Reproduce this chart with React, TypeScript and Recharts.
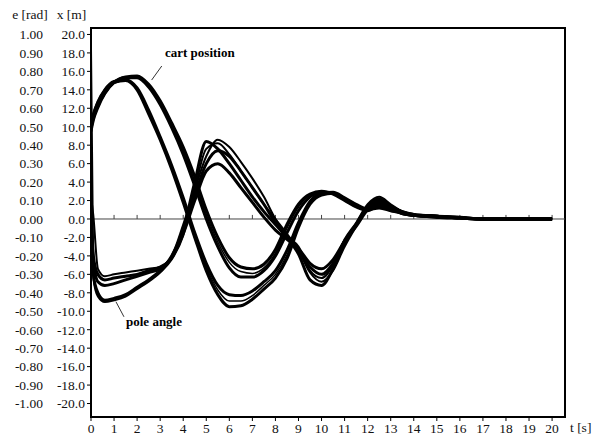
import {
  LineChart,
  Line,
  XAxis,
  YAxis,
  ReferenceLine,
  ReferenceArea,
  ReferenceDot,
} from "recharts";

// time grid [s]
const time = [
  0, 0.1, 0.3, 0.6, 1, 1.5, 2, 2.5, 3, 3.5, 4, 4.5, 5, 5.5, 6, 6.5, 7, 7.5, 8,
  8.5, 9, 9.5, 10, 10.5, 11, 11.5, 12, 12.5, 13, 13.5, 14, 15, 16, 17, 18, 19, 20,
];

// cart position runs [m]
const cartA1 = [
  10.0, 11.2, 12.6, 13.9, 14.8, 15.0, 14.0, 11.4, 8.6, 5.4, 1.8, -2.0, -5.6,
  -8.2, -9.5, -9.4, -8.7, -7.6, -6.4, -4.3, -0.9, 1.6, 2.6, 2.8, 2.2, 1.5, 1.0,
  1.2, 0.9, 0.6, 0.4, 0.3, 0.1, 0, 0, 0, 0,
];
const cartA2 = [
  10.2, 11.3, 12.7, 14.0, 14.9, 15.1, 14.2, 11.8, 8.9, 5.8, 2.3, -1.5, -4.8,
  -7.2, -8.2, -8.3, -7.8, -6.8, -5.6, -3.4, -0.4, 1.9, 2.8, 2.9, 2.3, 1.6, 1.1,
  1.4, 1.0, 0.7, 0.4, 0.3, 0.1, 0, 0, 0, 0,
];
const cartB1 = [
  9.5, 10.7, 12.1, 13.6, 14.8, 15.4, 15.5, 14.6, 12.8, 10.4, 7.8, 4.6, 1.0,
  -2.0, -4.2, -5.2, -5.4, -4.9, -3.3, -0.6, 1.6, 2.7, 3.0, 2.7, 2.0, 1.3, 0.9,
  1.5, 1.2, 0.7, 0.5, 0.3, 0.15, 0, 0, 0, 0,
];
const cartB2 = [
  9.8, 10.9, 12.3, 13.7, 14.8, 15.3, 15.3, 14.3, 12.4, 9.9, 7.0, 3.6, 0.0,
  -3.0, -5.3, -6.3, -6.3, -5.6, -4.0, -1.5, 0.9, 2.4, 2.9, 2.8, 2.1, 1.4, 1.0,
  1.6, 1.3, 0.8, 0.5, 0.3, 0.15, 0, 0, 0, 0,
];
const cartC1 = [
  10.1, 11.1, 12.5, 13.8, 14.7, 15.0, 14.1, 11.6, 8.8, 5.6, 2.0, -1.8, -5.2,
  -7.7, -8.9, -8.9, -8.3, -7.2, -6.0, -3.9, -0.7, 1.7, 2.7, 2.7, 2.1, 1.5, 1.1,
  1.3, 0.9, 0.6, 0.4, 0.3, 0.1, 0, 0, 0, 0,
];
const cartC2 = [
  9.6, 10.8, 12.2, 13.6, 14.8, 15.3, 15.4, 14.5, 12.6, 10.2, 7.4, 4.1, 0.5,
  -2.5, -4.7, -5.7, -5.9, -5.3, -3.7, -1.0, 1.3, 2.6, 3.0, 2.8, 2.1, 1.4, 1.0,
  1.6, 1.2, 0.7, 0.5, 0.3, 0.15, 0, 0, 0, 0,
];

// pole angle runs [rad]
const poleP1 = [
  0.0, -0.3, -0.4, -0.44, -0.43, -0.41, -0.37, -0.33, -0.28, -0.2, -0.06, 0.2,
  0.42, 0.38, 0.3, 0.21, 0.12, 0.04, -0.03, -0.1, -0.19, -0.33, -0.36, -0.27,
  -0.13, -0.03, 0.07, 0.11, 0.07, 0.03, 0.02, 0.015, 0.01, 0, 0, 0, 0,
];
const poleP2 = [
  0.12, 0.02, -0.27, -0.31, -0.3, -0.29, -0.28, -0.27, -0.26, -0.2, -0.03, 0.16,
  0.34, 0.43, 0.39, 0.31, 0.22, 0.12, 0.0, -0.09, -0.15, -0.28, -0.32, -0.25,
  -0.11, -0.02, 0.08, 0.12, 0.08, 0.04, 0.02, 0.015, 0.005, 0, 0, 0, 0,
];
const poleP3 = [
  0.0, -0.22, -0.34, -0.36, -0.35, -0.33, -0.31, -0.29, -0.27, -0.21, -0.08,
  0.1, 0.26, 0.3, 0.25, 0.17, 0.09, 0.01, -0.06, -0.11, -0.16, -0.24, -0.27,
  -0.22, -0.12, -0.04, 0.05, 0.09, 0.06, 0.03, 0.02, 0.01, 0.005, 0, 0, 0, 0,
];
const poleP4 = [
  0.92, -0.32, -0.42, -0.45, -0.44, -0.42, -0.38, -0.34, -0.29, -0.22, -0.09,
  0.16, 0.38, 0.41, 0.35, 0.26, 0.17, 0.08, 0.0, -0.08, -0.17, -0.29, -0.34,
  -0.28, -0.15, -0.04, 0.06, 0.1, 0.07, 0.04, 0.02, 0.01, 0.005, 0, 0, 0, 0,
];
const poleP5 = [
  0.05, -0.2, -0.3, -0.33, -0.32, -0.31, -0.3, -0.28, -0.26, -0.21, -0.06, 0.13,
  0.3, 0.37, 0.34, 0.26, 0.17, 0.08, -0.02, -0.1, -0.17, -0.26, -0.3, -0.24,
  -0.12, -0.03, 0.06, 0.1, 0.07, 0.04, 0.02, 0.01, 0.005, 0, 0, 0, 0,
];

const timeTicks = [0, 1, 2, 3, 4, 5, 6, 7, 8, 9, 10, 11, 12, 13, 14, 15, 16, 17, 18, 19, 20];
const eTicks = [1.0, 0.9, 0.8, 0.7, 0.6, 0.5, 0.4, 0.3, 0.2, 0.1, 0, -0.1, -0.2, -0.3, -0.4, -0.5, -0.6, -0.7, -0.8, -0.9, -1.0];
const xTicks = [20, 18, 16, 14, 12, 10, 8, 6, 4, 2, 0, -2, -4, -6, -8, -10, -12, -14, -16, -18, -20];

const cartRuns = { cartA1, cartA2, cartB1, cartB2, cartC1, cartC2 };
const poleRuns = { poleP1, poleP2, poleP3, poleP4, poleP5 };

const data = time.map((t, i) => {
  const row: Record<string, number> = { t };
  Object.entries(cartRuns).forEach(([k, v]) => (row[k] = v[i]));
  Object.entries(poleRuns).forEach(([k, v]) => (row[k] = v[i]));
  return row;
});

const T_MAX = 20.56;
const E_DOMAIN: [number, number] = [-1.073, 1.035];
const X_DOMAIN: [number, number] = [-21.46, 20.7];

const FONT = '"Liberation Serif", "Times New Roman", serif';
const FS = 13.5;
const labelStyle = { fontSize: FS, fill: "#111", fontFamily: FONT };

// ticks drawn as plain svg text so the serif font sticks
const YTick = ({ x, y, payload, digits }: any) => (
  <text x={x} y={y} dy="0.355em" textAnchor="end" fontFamily={FONT} fontSize={FS} fill="#111">
    {Number(payload.value).toFixed(digits)}
  </text>
);
const XTick = ({ x, y, payload }: any) => (
  <text x={x} y={y} dy="0.78em" textAnchor="middle" fontFamily={FONT} fontSize={FS} fill="#111">
    {payload.value}
  </text>
);

const Note = ({ cx, cy, text }: any) => (
  <text x={cx} y={cy} fontFamily={FONT} fontWeight="bold" fontSize={13} fill="#000">
    {text}
  </text>
);

export default function App() {
  return (
    <div style={{ width: 590, height: 430, fontFamily: FONT }}>
      <LineChart
        width={590}
        height={430}
        data={data}
        margin={{ top: 20, right: 33, bottom: 0, left: 0 }}
      >
        <XAxis
          dataKey="t"
          type="number"
          domain={[0, T_MAX]}
          ticks={timeTicks}
          interval={0}
          allowDataOverflow
          height={21}
          tickSize={4}
          tickMargin={1}
          tick={<XTick />}
          stroke="#000"
          axisLine={{ stroke: "#000", strokeWidth: 2 }}
          label={{ value: "t [s]", position: "right", offset: 5, ...labelStyle }}
        />
        {/* x [m] axis sits next to the plot, e [rad] outside it */}
        <YAxis
          yAxisId="m"
          type="number"
          domain={X_DOMAIN}
          ticks={xTicks}
          interval={0}
          allowDataOverflow
          width={39}
          tickSize={4}
          tickMargin={2}
          tick={<YTick digits={1} />}
          stroke="#000"
          axisLine={{ stroke: "#000", strokeWidth: 2 }}
          label={{ value: "x [m]", position: "top", offset: 9, ...labelStyle }}
        />
        <YAxis
          yAxisId="rad"
          type="number"
          domain={E_DOMAIN}
          ticks={eTicks}
          interval={0}
          allowDataOverflow
          width={44}
          tickSize={0}
          tickMargin={9}
          tickLine={false}
          axisLine={false}
          tick={<YTick digits={2} />}
          label={{ value: "e [rad]", position: "top", offset: 9, ...labelStyle }}
        />

        <ReferenceArea
          yAxisId="rad"
          x1={0}
          x2={T_MAX}
          y1={E_DOMAIN[0]}
          y2={E_DOMAIN[1]}
          fill="none"
          stroke="#000"
          strokeWidth={2}
          ifOverflow="visible"
        />
        <ReferenceLine yAxisId="rad" y={0} stroke="#444" strokeWidth={1} />
        {timeTicks.slice(1).map((t) => (
          <ReferenceLine
            key={t}
            yAxisId="rad"
            segment={[
              { x: t, y: 0 },
              { x: t, y: 0.022 },
            ]}
            stroke="#444"
          />
        ))}

        {Object.keys(cartRuns).map((k, i) => (
          <Line
            key={k}
            yAxisId="m"
            dataKey={k}
            type="monotone"
            stroke="#000"
            strokeWidth={i < 4 ? 3 : 1.5}
            dot={false}
            isAnimationActive={false}
          />
        ))}
        {Object.keys(poleRuns).map((k, i) => (
          <Line
            key={k}
            yAxisId="rad"
            dataKey={k}
            type="monotone"
            stroke="#000"
            strokeWidth={i % 2 === 0 ? 3 : 2}
            dot={false}
            isAnimationActive={false}
          />
        ))}

        <ReferenceLine
          yAxisId="rad"
          segment={[
            { x: 3.07, y: 0.829 },
            { x: 2.63, y: 0.753 },
          ]}
          stroke="#333"
        />
        <ReferenceDot
          yAxisId="rad"
          x={3.21}
          y={0.878}
          r={0}
          shape={(p: any) => <Note {...p} text="cart position" />}
        />
        <ReferenceLine
          yAxisId="rad"
          segment={[
            { x: 1.08, y: -0.448 },
            { x: 1.43, y: -0.53 },
          ]}
          stroke="#333"
        />
        <ReferenceDot
          yAxisId="rad"
          x={1.52}
          y={-0.58}
          r={0}
          shape={(p: any) => <Note {...p} text="pole angle" />}
        />
      </LineChart>
    </div>
  );
}
